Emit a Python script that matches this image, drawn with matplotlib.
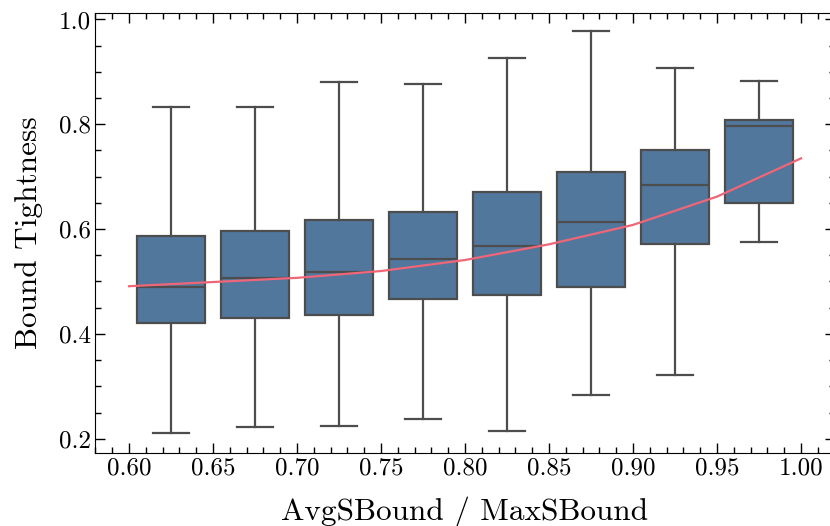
import matplotlib
matplotlib.use("Agg")
import matplotlib.pyplot as plt
from matplotlib.ticker import MultipleLocator, AutoMinorLocator

# box statistics
positions = [0.625, 0.675, 0.725, 0.775, 0.825, 0.875, 0.925, 0.975]
whis_lo = [0.211, 0.223, 0.225, 0.238, 0.215, 0.284, 0.322, 0.575]
q1 = [0.421, 0.431, 0.436, 0.467, 0.474, 0.490, 0.571, 0.650]
medians = [0.490, 0.507, 0.518, 0.543, 0.568, 0.613, 0.684, 0.796]
q3 = [0.587, 0.596, 0.617, 0.633, 0.670, 0.709, 0.750, 0.808]
whis_hi = [0.832, 0.833, 0.880, 0.877, 0.926, 0.977, 0.908, 0.883]

# fitted trend curve
fit_x = [0.60, 0.65, 0.70, 0.75, 0.80, 0.85, 0.90, 0.95, 1.00]
fit_y = [0.491, 0.499, 0.507, 0.520, 0.541, 0.571, 0.608, 0.662, 0.735]

plt.rcParams['font.family'] = 'cmr10'
plt.rcParams['mathtext.fontset'] = 'cm'
plt.rcParams['axes.formatter.use_mathtext'] = True

fig = plt.figure(figsize=(8.3, 5.26), dpi=100)
ax = fig.add_axes([0.115, 0.139, 0.8906, 0.837])

stats = []
for lo, a, m, b, hi in zip(whis_lo, q1, medians, q3, whis_hi):
    stats.append({'whislo': lo, 'q1': a, 'med': m, 'q3': b, 'whishi': hi, 'fliers': []})

edge = '#4d4d4d'
ax.bxp(stats, positions=positions, widths=0.04, capwidths=0.021,
       patch_artist=True, showfliers=False, manage_ticks=False,
       boxprops=dict(facecolor='#51779d', edgecolor=edge, linewidth=1.6),
       medianprops=dict(color=edge, linewidth=1.6),
       whiskerprops=dict(color=edge, linewidth=1.6),
       capprops=dict(color=edge, linewidth=1.6))

ax.plot(fit_x, fit_y, color='#ee6677', linewidth=1.6, zorder=5)

ax.set_xlim(0.58, 1.02)
ax.set_ylim(0.173, 1.013)
ax.xaxis.set_major_locator(MultipleLocator(0.05))
ax.xaxis.set_minor_locator(AutoMinorLocator(5))
ax.yaxis.set_major_locator(MultipleLocator(0.2))
ax.yaxis.set_minor_locator(AutoMinorLocator(4))
ax.xaxis.set_major_formatter(plt.FormatStrFormatter('%.2f'))
ax.yaxis.set_major_formatter(plt.FormatStrFormatter('%.1f'))
ax.tick_params(which='both', direction='in', top=True, right=True, labelsize=18)
ax.tick_params(which='major', length=7, width=1)
ax.tick_params(which='minor', length=4, width=1)

ax.set_xlabel("AvgSBound / MaxSBound", fontsize=22.5, labelpad=12)
ax.set_ylabel("Bound Tightness", fontsize=22.5, labelpad=11)

fig.savefig("out.png", dpi=100)
